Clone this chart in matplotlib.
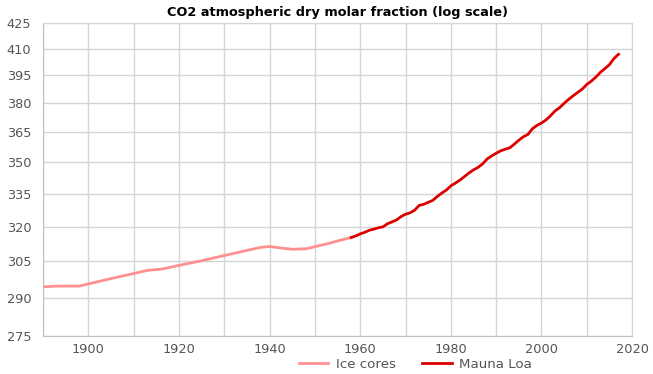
import numpy as np
import matplotlib.pyplot as plt
from matplotlib.ticker import FixedLocator, FixedFormatter, NullLocator

# ice core record
ice_years = [1890, 1893, 1898, 1900, 1905, 1910, 1913, 1916, 1920, 1925, 1930,
             1935, 1938, 1940, 1943, 1945, 1948, 1950, 1953, 1955, 1958]
ice_ppm = [294.4, 294.7, 294.7, 295.6, 297.8, 299.9, 301.2, 301.7, 303.3, 305.3, 307.5,
           309.7, 311.0, 311.4, 310.6, 310.2, 310.4, 311.3, 312.7, 313.8, 315.3]

# Mauna Loa annual means
ml_years = list(range(1958, 2018))
ml_ppm = [315.3, 316.0, 316.9, 317.6, 318.5, 319.0, 319.6, 320.0, 321.4, 322.2,
          323.1, 324.6, 325.7, 326.3, 327.5, 329.7, 330.2, 331.1, 332.0, 333.8,
          335.4, 336.8, 338.8, 340.1, 341.5, 343.2, 344.9, 346.4, 347.6, 349.3,
          351.7, 353.2, 354.5, 355.7, 356.5, 357.2, 359.0, 361.0, 362.7, 363.9,
          366.8, 368.5, 369.7, 371.3, 373.5, 376.0, 377.7, 380.0, 382.1, 384.0,
          385.8, 387.6, 390.1, 391.9, 394.1, 396.7, 398.8, 401.0, 404.4, 406.8]

y_ticks = [275, 290, 305, 320, 335, 350, 365, 380, 395, 410, 425]
x_ticks = [1900, 1920, 1940, 1960, 1980, 2000, 2020]

plt.rcParams['font.family'] = ['DejaVu Sans']

fig = plt.figure(figsize=(6.53, 3.74), dpi=100)
ax = fig.add_axes([0.066, 0.102, 0.902, 0.837])

ax.plot(ice_years, ice_ppm, color='#ff9090', lw=2, label='Ice cores')
ax.plot(ml_years, ml_ppm, color='#dd0000', lw=2, label='Mauna Loa')

ax.set_yscale('log')
ax.set_ylim(275, 425)
ax.set_xlim(1890, 2020)
ax.yaxis.set_major_locator(FixedLocator(y_ticks))
ax.yaxis.set_major_formatter(FixedFormatter([str(v) for v in y_ticks]))
ax.yaxis.set_minor_locator(NullLocator())
ax.set_xticks(x_ticks)
ax.set_xticks(range(1890, 2021, 10), minor=True)

ax.grid(True, which='major', axis='y', color='#d4d4d4', lw=1)
ax.grid(True, which='both', axis='x', color='#d4d4d4', lw=1)
ax.set_axisbelow(True)
for s in ax.spines.values():
    s.set_color('#d4d4d4')
ax.spines['left'].set_color('#bfbfbf')
ax.spines['bottom'].set_color('#bfbfbf')
ax.tick_params(which='both', length=0, labelsize=9.3, colors='#555555')
ax.tick_params(axis='x', pad=5)
ax.tick_params(axis='y', pad=8.5)

ax.set_title('CO2 atmospheric dry molar fraction (log scale)', fontsize=9.3,
             fontweight='bold', pad=5)
fig.legend(loc='center left', bbox_to_anchor=(299 / 653, 1 - 364 / 374), ncol=2,
           frameon=False, fontsize=9.6, handlelength=2.2, handletextpad=0.55,
           columnspacing=2.0, borderpad=0, borderaxespad=0, labelcolor='#555555')

fig.savefig('out.png', dpi=100)
